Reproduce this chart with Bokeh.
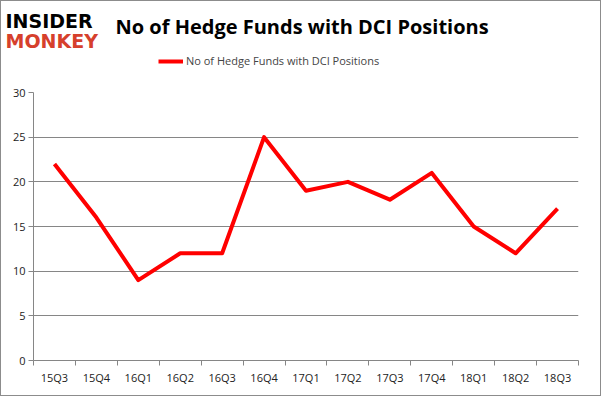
from bokeh.plotting import figure
from bokeh.layouts import column, row
from bokeh.models import FixedTicker, Range1d, ColumnDataSource, Legend, LegendItem
from bokeh.core.properties import value
from bokeh.embed import file_html
from bokeh.resources import INLINE

quarters = ["15Q3", "15Q4", "16Q1", "16Q2", "16Q3", "16Q4", "17Q1",
            "17Q2", "17Q3", "17Q4", "18Q1", "18Q2", "18Q3"]
funds = [22, 16, 9, 12, 12, 25, 19, 20, 18, 21, 15, 12, 17]
y_ticks = [0, 5, 10, 15, 20, 25, 30]
series_name = "No of Hedge Funds with DCI Positions"
title_text = "No of Hedge Funds with DCI Positions"
logo_top = "INSIDER"
logo_bottom = "MONKEY"

W = 599
HEADER_H = 83
CHART_H = 311
LINE_RED = "#ff0000"
GRID = "#868686"

xs = list(range(len(quarters)))
src = ColumnDataSource(dict(x=xs, y=funds))

# ---------- header (title, logo, legend) ----------
hdr = figure(width=W, height=HEADER_H, output_backend="svg", toolbar_location=None,
             x_range=Range1d(0, W), y_range=Range1d(HEADER_H, 0),
             x_axis_type=None, y_axis_type=None,
             min_border=0, min_border_left=0, min_border_right=0,
             min_border_top=0, min_border_bottom=0)
hdr.outline_line_color = None
hdr.grid.visible = False
hdr.background_fill_color = "white"
hdr.border_fill_color = "white"

hdr.text(x=[114], y=[25], text=[title_text], text_font=value("Open Sans"),
         text_font_style="bold", text_font_size="20px", text_color="black",
         text_baseline="middle", text_align="left")
hdr.text(x=[4], y=[19], text=[logo_top], text_font=value("DejaVu Sans"),
         text_font_style="bold", text_font_size="19px", text_color="black",
         text_baseline="middle", text_align="left")
hdr.text(x=[4], y=[39], text=[logo_bottom], text_font=value("DejaVu Sans"),
         text_font_style="bold", text_font_size="19px", text_color="#d6402c",
         text_baseline="middle", text_align="left")

# legend sample: hidden copy of the series line, drawn only as legend glyph
legend_line = hdr.line("x", "y", source=src, line_color=LINE_RED, line_width=4)
legend_line.visible = False
legend = Legend(items=[LegendItem(label=series_name, renderers=[legend_line])],
                location=(157, 16), orientation="horizontal",
                border_line_color=None, background_fill_alpha=0,
                inactive_fill_alpha=0,
                padding=0, margin=0, glyph_width=25, glyph_height=14,
                label_standoff=3, label_text_font="Open Sans",
                label_text_font_size="11px", label_height=14,
                label_text_baseline="middle")
hdr.add_layout(legend, "center")

# ---------- chart ----------
p = figure(width=W, height=CHART_H, output_backend="svg", toolbar_location=None,
           x_range=Range1d(-0.5, len(quarters) - 0.5), y_range=Range1d(0, 30),
           min_border_left=32, min_border_right=22, min_border_top=8,
           min_border_bottom=35)
p.outline_line_color = None
p.background_fill_color = "white"
p.border_fill_color = "white"

p.line("x", "y", source=src, line_color=LINE_RED, line_width=4, line_join="round")

p.xaxis.ticker = FixedTicker(ticks=xs, minor_ticks=[i - 0.5 for i in range(len(quarters) + 1)])
p.xaxis.major_label_overrides = {i: q for i, q in enumerate(quarters)}
p.xaxis.major_tick_out = 0
p.xaxis.major_tick_in = 0
p.xaxis.minor_tick_out = 5
p.xaxis.minor_tick_in = 0
p.xaxis.minor_tick_line_color = GRID
p.xaxis.axis_line_color = GRID
p.xaxis.major_label_standoff = 4
p.xgrid.visible = False

p.yaxis.ticker = FixedTicker(ticks=y_ticks)
p.yaxis.major_tick_out = 5
p.yaxis.major_tick_in = 0
p.yaxis.minor_tick_line_color = None
p.yaxis.major_tick_line_color = GRID
p.yaxis.axis_line_color = GRID
p.yaxis.major_label_standoff = 3
p.ygrid.grid_line_color = GRID
p.ygrid.grid_line_width = 1

for ax in (p.xaxis, p.yaxis):
    ax.major_label_text_font = "Open Sans"
    ax.major_label_text_font_size = "11px"
    ax.major_label_text_color = "#222222"

layout = column(row(hdr), row(p), spacing=0)
layout.styles = {"border": "1px solid #8c8c8c"}

open("out.html", "w").write(file_html(layout, INLINE))
